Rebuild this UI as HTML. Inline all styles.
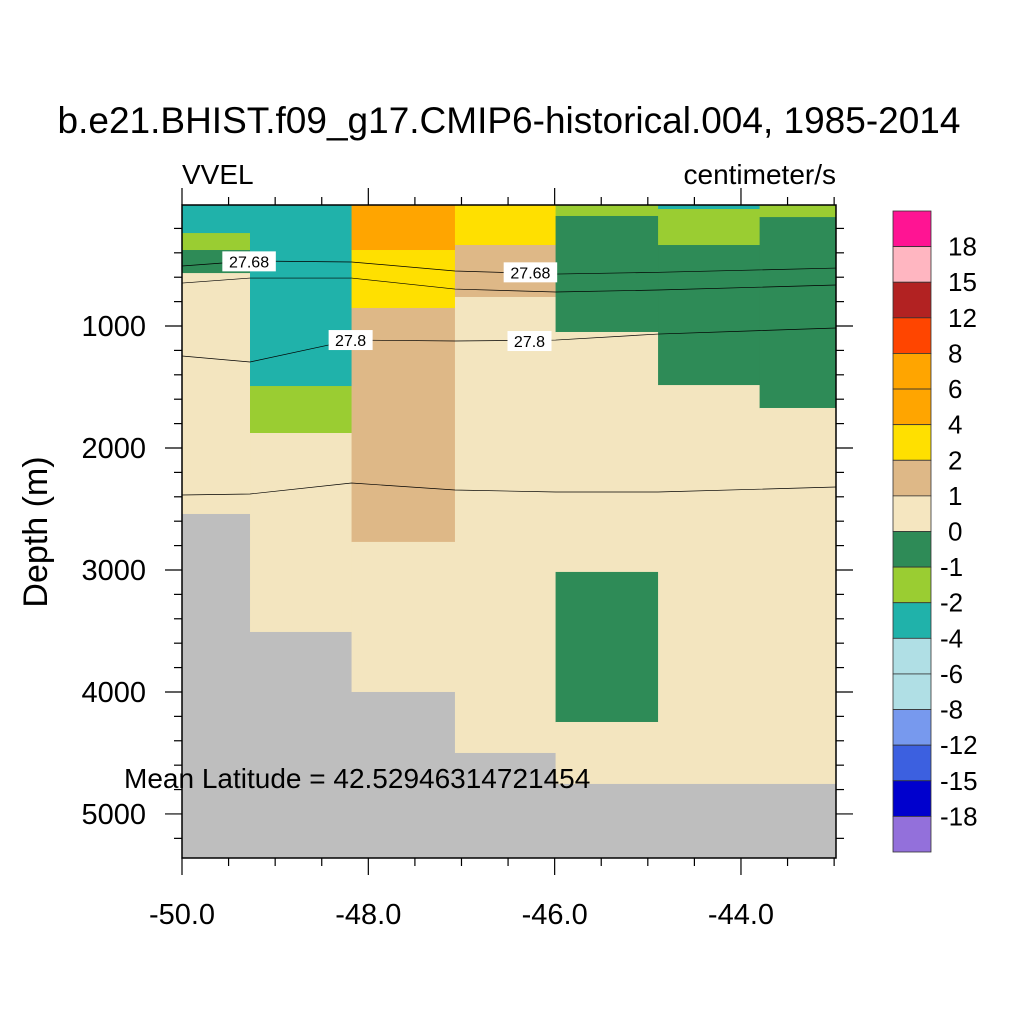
<!DOCTYPE html>
<html><head><meta charset="utf-8"><style>
body{margin:0;background:#fff;}
svg text{font-family:"Liberation Sans",sans-serif;}
</style></head><body>
<svg id="chart" width="1024" height="1024" viewBox="0 0 1024 1024" xmlns="http://www.w3.org/2000/svg">
<rect width="1024" height="1024" fill="#fff"/>
<text x="509" y="133" font-size="37" text-anchor="middle">b.e21.BHIST.f09_g17.CMIP6-historical.004, 1985-2014</text>
<text x="182" y="184" font-size="28">VVEL</text>
<text x="836" y="184" font-size="28" text-anchor="end">centimeter/s</text>
<text transform="translate(47,532) rotate(-90)" font-size="34" text-anchor="middle">Depth (m)</text>
<g id="cells"></g><g id="contours"></g><g id="axes"></g><g id="cbar"></g>
<text x="124" y="788" font-size="28">Mean Latitude = 42.52946314721454</text>
</svg>
<script>
const NS='http://www.w3.org/2000/svg';
// column edges in longitude
const colEdges=[-50,-49.27,-48.18,-47.07,-45.99,-44.89,-43.8,-42.98];
// cells: [column index, top depth, bottom depth, color]
const cellCols=[0,0,0,0,0,0, 1,1,1,1, 2,2,2,2,2, 3,3,3,3, 4,4,4,4,4,4, 5,5,5,5,5, 6,6,6,6];
const cellTop=[8,25,238,377,566,2541, 8,1492,1877,3508, 8,377,852,2770,4000, 8,336,762,4500, 8,98,1049,3016,4246,4754, 8,41,336,1484,4754, 8,107,1672,4754];
const cellBot=[25,238,377,566,2541,5361, 1492,1877,3508,5361, 377,852,2770,4000,5361, 336,762,4500,5361, 98,1049,3016,4246,4754,5361, 41,336,1484,4754,5361, 107,1672,4754,5361];
const cellColor=['#20b2aa','#20b2aa','#9acd32','#2e8b57','#f5deb3','#bebebe', '#20b2aa','#9acd32','#f5deb3','#bebebe', '#ffa500','#ffe000','#deb887','#f5deb3','#bebebe', '#ffe000','#deb887','#f5deb3','#bebebe', '#9acd32','#2e8b57','#f5deb3','#2e8b57','#f5deb3','#bebebe', '#20b2aa','#9acd32','#2e8b57','#f5deb3','#bebebe', '#9acd32','#2e8b57','#f5deb3','#bebebe'];
// contour lines
const contourLon=[-50,-49.27,-48.18,-47.07,-45.99,-44.89,-42.98];
const c1=[508,467,475,549,574,560,525];
const c2=[648,607,607,697,721,705,664];
const c3=[1246,1295,1115,1123,1115,1066,1016];
const c4=[2385,2377,2287,2344,2361,2361,2320];
const contourLabels=['27.68','27.68','27.8','27.8'];
const labelLon=[-49.28,-46.26,-48.19,-46.27];
const labelDepth=[470,560,1115,1123];
// axes
const xTicks=[-50,-48,-46,-44];
const xTickLabels=['-50.0','-48.0','-46.0','-44.0'];
const yTicks=[1000,2000,3000,4000,5000];
const yTickLabels=['1000','2000','3000','4000','5000'];
// colorbar
const cbColors=['#ff1493','#ffb6c1','#b22222','#ff4500','#ffa500','#ffa500','#ffe000','#deb887','#f5e6c0','#2e8b57','#9acd32','#20b2aa','#b0dfe5','#b0dfe5','#7799ee','#3c60e0','#0000cd','#9370db'];
const cbLabels=['18','15','12','8','6','4','2','1','0','-1','-2','-4','-6','-8','-12','-15','-18'];

const X0=182,X1=836,Y0=205,Y1=858;
const LON0=-50,LON1=-42.98,D0=8,D1=5361;
const xs=v=>X0+(v-LON0)/(LON1-LON0)*(X1-X0);
const ys=d=>Y0+(d-D0)/(D1-D0)*(Y1-Y0);
function mk(tag,attrs,parent){const e=document.createElementNS(NS,tag);for(const k in attrs)e.setAttribute(k,attrs[k]);parent.appendChild(e);return e;}
const gC=document.getElementById('cells');
for(let i=0;i<cellCols.length;i++){
  let c=cellCols[i];let col=cellColor[i]==='#f5deb3'?'#f3e5bf':cellColor[i];
  const r=mk('rect',{x:xs(colEdges[c]),y:ys(cellTop[i]),width:xs(colEdges[c+1])-xs(colEdges[c])+0.5,height:ys(cellBot[i])-ys(cellTop[i])+0.5,fill:col},gC);
  
  
}
const gL=document.getElementById('contours');
[c1,c2,c3,c4].forEach((arr,j)=>{
  const p=mk('polyline',{points:arr.map((d,i)=>xs(contourLon[i])+','+ys(d)).join(' '),fill:'none',stroke:'#000','stroke-width':0.7},gL);
  
  
});
contourLabels.forEach((t,i)=>{
  const x=xs(labelLon[i]),y=ys(labelDepth[i]);
  const w=t.length*9.5+6;
  const r=mk('rect',{x:x-w/2,y:y-10,width:w,height:20,fill:'#fff'},gL);
  
  
  const tx=mk('text',{x:x,y:y+6,'font-size':16,'text-anchor':'middle'},gL);
  tx.textContent=t;
  
  
});
const gA=document.getElementById('axes');
const fr=mk('rect',{x:X0,y:Y0,width:X1-X0,height:Y1-Y0,fill:'none',stroke:'#000','stroke-width':1.5},gA);


for(let v=-50;v<=-43;v+=0.5){
  const maj=Math.abs(v%2)<1e-6, L=maj?17:8, x=xs(v);
  mk('line',{x1:x,y1:Y1,x2:x,y2:Y1+L,stroke:'#000','stroke-width':1.2},gA);
  mk('line',{x1:x,y1:Y0,x2:x,y2:Y0-L,stroke:'#000','stroke-width':1.2},gA);
}
for(let d=200;d<=5361;d+=200){
  const maj=d%1000===0, L=maj?17:8, y=ys(d);
  mk('line',{x1:X0,y1:y,x2:X0-L,y2:y,stroke:'#000','stroke-width':1.2},gA);
  mk('line',{x1:X1,y1:y,x2:X1+L,y2:y,stroke:'#000','stroke-width':1.2},gA);
}
xTicks.forEach((v,i)=>{const t=mk('text',{x:xs(v),y:924,'font-size':29,'text-anchor':'middle'},gA);t.textContent=xTickLabels[i];

});
yTicks.forEach((v,i)=>{const t=mk('text',{x:146,y:ys(v)+10,'font-size':29,'text-anchor':'end'},gA);t.textContent=yTickLabels[i];

});
const gB=document.getElementById('cbar');
const bh=(852-211)/cbColors.length;
cbColors.forEach((c,i)=>{const r=mk('rect',{x:893,y:211+i*bh,width:38,height:bh,fill:c,stroke:'#333','stroke-width':0.8},gB);

});
cbLabels.forEach((t,i)=>{const tx=mk('text',{x:t.startsWith('-')?940:948,y:211+(i+1)*bh+9,'font-size':26},gB);tx.textContent=t;

});
</script>
</body></html>
